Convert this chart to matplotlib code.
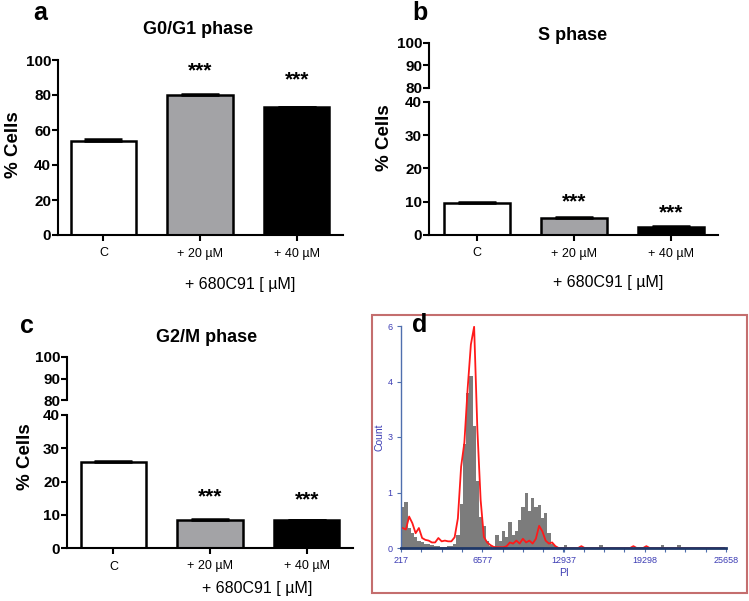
import numpy as np
import matplotlib
matplotlib.use('Agg')
import matplotlib.pyplot as plt
from matplotlib.patches import Rectangle

plt.rcParams['font.family'] = ['Liberation Sans', 'DejaVu Sans']

# ── data ──
GROUPS = ['C', '+ 20 µM', '+ 40 µM']
BAR_COLORS = ['white', '#a3a3a6', 'black']
SIG = ['', '***', '***']

G1_MEAN = [54, 80, 73]
G1_ERR = [0.8, 0.3, 0.3]
S_MEAN = [9.7, 5.0, 2.3]
S_ERR = [0.3, 0.4, 0.3]
G2M_MEAN = [26.0, 8.3, 8.3]
G2M_ERR = [0.2, 0.4, 0.2]

PI_RANGE = (217, 25658)
PI_TICKS = [217, 6577, 12937, 19298, 25658]
COUNT_TICKS = [0, 1.5, 3, 4.5, 6]
COUNT_LABELS = ['0', '1', '3', '4', '6']

# control histogram (gray), 100 bins over PI_RANGE
CTRL_COUNTS = [
    1.1, 1.25, 0.55, 0.4, 0.3, 0.2, 0.15, 0.12, 0.1, 0.08,
    0.06, 0.05, 0.04, 0.04, 0.05, 0.06, 0.1, 0.35, 1.2, 2.8,
    4.2, 4.65, 3.3, 1.8, 0.85, 0.6, 0.2, 0.05, 0.0, 0.35,
    0.2, 0.45, 0.3, 0.7, 0.35, 0.45, 0.75, 1.1, 1.5, 1.0,
    1.35, 1.1, 1.15, 0.8, 0.95, 0.4, 0.1, 0.05, 0, 0,
    0.08, 0, 0, 0, 0, 0, 0, 0, 0, 0,
    0, 0.08, 0, 0, 0, 0, 0, 0, 0, 0,
    0, 0, 0, 0, 0, 0, 0, 0, 0, 0,
    0.08, 0, 0, 0, 0, 0.08, 0, 0, 0, 0,
    0, 0, 0, 0, 0, 0, 0, 0, 0, 0,
]
# treated histogram (red line)
TREAT_COUNTS = [
    0.54, 0.5, 0.85, 0.67, 0.4, 0.54, 0.27, 0.22, 0.2, 0.15,
    0.15, 0.27, 0.18, 0.2, 0.18, 0.18, 0.29, 0.8, 2.2, 2.85,
    4.3, 5.5, 5.98, 3.2, 1.3, 0.3, 0.15, 0.08, 0.03, 0.02,
    0.02, 0.02, 0.05, 0.15, 0.12, 0.2, 0.12, 0.25, 0.15, 0.2,
    0.12, 0.25, 0.6, 0.45, 0.2, 0.12, 0.15, 0.05, 0, 0,
    0, 0, 0, 0, 0, 0.05, 0, 0, 0, 0,
    0, 0, 0, 0, 0, 0, 0, 0, 0, 0,
    0, 0.05, 0, 0, 0, 0.05, 0, 0, 0, 0,
    0, 0, 0, 0, 0, 0, 0, 0, 0, 0,
    0, 0, 0, 0, 0, 0, 0, 0, 0, 0,
]

W, H = 749, 601
fig = plt.figure(figsize=(W / 100, H / 100), dpi=100)


def px_axes(left, right, top, bottom):
    return fig.add_axes([left / W, 1 - bottom / H, (right - left) / W, (bottom - top) / H])


def ftext(x, y, s, **kw):
    fig.text(x / W, 1 - y / H, s, **kw)


def style_ax(ax, show_bottom=True):
    for s in ['top', 'right']:
        ax.spines[s].set_visible(False)
    ax.spines['left'].set_linewidth(1.5)
    ax.spines['bottom'].set_linewidth(1.5)
    ax.spines['bottom'].set_visible(show_bottom)
    ax.tick_params(axis='y', direction='out', length=4, width=1.5, labelsize=11, pad=1)
    for lab in ax.get_yticklabels():
        lab.set_fontweight('bold')


def draw_bars(ax, means, errs, star_y):
    x = np.arange(len(GROUPS))
    ax.bar(x, means, width=0.68, color=BAR_COLORS, edgecolor='black', linewidth=1.8, zorder=2)
    ax.errorbar(x, means, yerr=[np.zeros(len(errs)), errs], fmt='none', ecolor='black',
                elinewidth=1.5, capsize=14, capthick=1.8, zorder=3)
    for xi, s, sy in zip(x, SIG, star_y):
        if s:
            ax.text(xi, sy, s, ha='center', va='center', fontsize=15, fontweight='bold')
    ax.set_xticks(x)
    ax.set_xticklabels(GROUPS, fontsize=9)
    ax.tick_params(axis='x', direction='out', length=4, width=1.5, pad=5)


# ── panel a ──
ax_a = px_axes(58, 343, 60, 235)
draw_bars(ax_a, G1_MEAN, G1_ERR, [None, 94, 88.5])
ax_a.set_xlim(-0.47, 2.48)
ax_a.set_ylim(0, 100)
ax_a.set_yticks([0, 20, 40, 60, 80, 100])
style_ax(ax_a)
ftext(40, 13, 'a', fontsize=18, fontweight='bold', ha='center', va='center')
ftext(198, 30, 'G0/G1 phase', fontsize=13, fontweight='bold', ha='center', va='center')
ftext(13, 145, '% Cells', fontsize=13.5, fontweight='bold', rotation=90, ha='center', va='center')
ftext(240, 284, '+ 680C91 [ µM]', fontsize=11.5, ha='center', va='center')


def broken_panel(left, right, top_hi, bot_hi, top_lo, bot_lo, means, errs, star_y, xlim):
    ax_hi = px_axes(left, right, top_hi, bot_hi)
    ax_lo = px_axes(left, right, top_lo, bot_lo)
    ax_hi.set_ylim(80, 100)
    ax_hi.set_yticks([80, 90, 100])
    ax_hi.set_xlim(*xlim)
    ax_hi.set_xticks([])
    style_ax(ax_hi, show_bottom=False)
    draw_bars(ax_lo, means, errs, star_y)
    ax_lo.set_xlim(*xlim)
    ax_lo.set_ylim(0, 40)
    ax_lo.set_yticks([0, 10, 20, 30, 40])
    style_ax(ax_lo)
    return ax_hi, ax_lo


# ── panel b ──
broken_panel(429, 718, 42.7, 87.7, 101.7, 235, S_MEAN, S_ERR, [None, 9.9, 6.6], (-0.495, 2.485))
ftext(420, 13, 'b', fontsize=18, fontweight='bold', ha='center', va='center')
ftext(573, 35, 'S phase', fontsize=13, fontweight='bold', ha='center', va='center')
ftext(385, 138, '% Cells', fontsize=13.5, fontweight='bold', rotation=90, ha='center', va='center')
ftext(608, 282, '+ 680C91 [ µM]', fontsize=11.5, ha='center', va='center')

# ── panel c ──
broken_panel(67, 353, 357, 400, 415, 548, G2M_MEAN, G2M_ERR, [None, 15.4, 14.6], (-0.48, 2.48))
ftext(27, 326, 'c', fontsize=18, fontweight='bold', ha='center', va='center')
ftext(207, 338, 'G2/M phase', fontsize=13, fontweight='bold', ha='center', va='center')
ftext(25, 457, '% Cells', fontsize=13.5, fontweight='bold', rotation=90, ha='center', va='center')
ftext(257, 588, '+ 680C91 [ µM]', fontsize=11.5, ha='center', va='center')

# ── panel d (flow histogram) ──
fig.patches.append(Rectangle((372 / W, 1 - 593 / H), (747 - 372) / W, (593 - 315) / H,
                             transform=fig.transFigure, fill=False,
                             edgecolor='#c46e6e', linewidth=1.5))
ax_d = px_axes(401, 726, 326, 548)
edges = np.linspace(PI_RANGE[0], PI_RANGE[1], len(CTRL_COUNTS) + 1)
centers = (edges[:-1] + edges[1:]) / 2
ax_d.stairs(CTRL_COUNTS, edges, fill=True, color='#7c7c7c', zorder=1)
ax_d.plot(centers, TREAT_COUNTS, color='#ff1a1a', linewidth=1.3, zorder=2)
ax_d.set_xlim(*PI_RANGE)
ax_d.set_ylim(0, 6)
for s in ['top', 'right']:
    ax_d.spines[s].set_visible(False)
ax_d.spines['left'].set_color('#4f6fae')
ax_d.spines['left'].set_linewidth(1.0)
ax_d.spines['bottom'].set_color('#1f3868')
ax_d.spines['bottom'].set_linewidth(2.0)
ax_d.set_xticks(PI_TICKS)
ax_d.set_xticklabels([str(t) for t in PI_TICKS])
ax_d.set_xticks(np.linspace(PI_RANGE[0], PI_RANGE[1], 17), minor=True)
ax_d.set_yticks(COUNT_TICKS)
ax_d.set_yticklabels(COUNT_LABELS)
ax_d.tick_params(axis='both', which='both', colors='#4f6fae', labelcolor='#3c3cb4',
                 labelsize=6.5, length=3, width=0.8, pad=3)
ax_d.set_xlabel('PI', fontsize=7.5, color='#3c3cb4', labelpad=2)
ax_d.set_ylabel('Count', fontsize=7.5, color='#3c3cb4', labelpad=2)
ftext(420, 325, 'd', fontsize=18, fontweight='bold', ha='center', va='center')

fig.savefig('out.png', dpi=100, facecolor='white')
